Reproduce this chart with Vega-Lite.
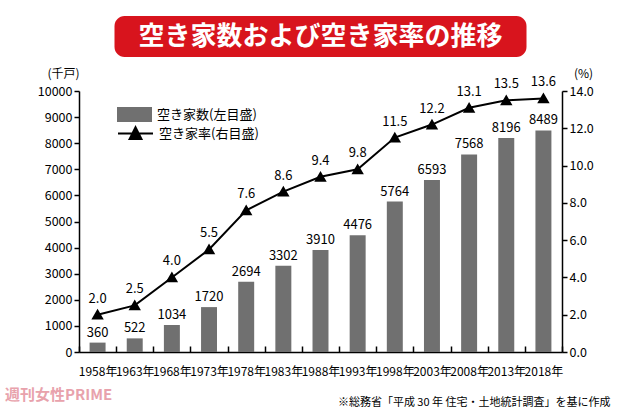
{
  "$schema": "https://vega.github.io/schema/vega-lite/v6.json",
  "background": "white",
  "padding": {"left": 5, "top": 16, "right": 5, "bottom": 0},
  "spacing": 34,
  "center": true,
  "bounds": "flush",
  "resolve": {"scale": {"fill": "independent", "stroke": "independent"}, "legend": {"fill": "independent", "stroke": "independent"}},
  "config": {
    "font": "Noto Sans CJK JP",
    "view": {"stroke": null},
    "axis": {"domainColor": "black", "domainWidth": 1.5, "tickColor": "black", "tickWidth": 1.5, "labelColor": "black", "titleColor": "black", "grid": false, "labelFont": "Noto Sans CJK JP", "titleFont": "Noto Sans CJK JP"}
  },
  "vconcat": [
    {
      "width": 412,
      "height": 41,
      "view": {"fill": "#d8141d", "stroke": null, "cornerRadius": 10},
      "data": {"values": [{"t": "空き家数および空き家率の推移"}]},
      "mark": {"type": "text", "color": "white", "fontSize": 26, "fontWeight": "bold", "baseline": "middle", "align": "center"},
      "encoding": {"text": {"field": "t", "type": "nominal"}}
    },
    {
      "width": 483,
      "height": 261,
      "title": {"text": "週刊女性PRIME", "orient": "bottom", "anchor": "start", "frame": "group", "dx": -74, "offset": -19, "color": "#e8a2ac", "fontSize": 15, "fontWeight": "bold"},
      "data": {"values": [
        {"year": "1958年", "houses": 360, "rate": 2.0},
        {"year": "1963年", "houses": 522, "rate": 2.5},
        {"year": "1968年", "houses": 1034, "rate": 4.0},
        {"year": "1973年", "houses": 1720, "rate": 5.5},
        {"year": "1978年", "houses": 2694, "rate": 7.6},
        {"year": "1983年", "houses": 3302, "rate": 8.6},
        {"year": "1988年", "houses": 3910, "rate": 9.4},
        {"year": "1993年", "houses": 4476, "rate": 9.8},
        {"year": "1998年", "houses": 5764, "rate": 11.5},
        {"year": "2003年", "houses": 6593, "rate": 12.2},
        {"year": "2008年", "houses": 7568, "rate": 13.1},
        {"year": "2013年", "houses": 8196, "rate": 13.5},
        {"year": "2018年", "houses": 8489, "rate": 13.6}
      ]},
      "encoding": {
        "x": {"field": "year", "type": "nominal", "sort": null,
          "scale": {"paddingInner": 0, "paddingOuter": 0},
          "axis": {"title": "※総務省「平成 30 年 住宅・土地統計調査」を基に作成", "labelAngle": 0, "labelFontSize": 12, "labelPadding": 20, "tickBand": "extent", "tickSize": -6, "labelOverlap": false, "titleX": 531, "titleY": 50, "titleAlign": "right", "titleBaseline": "middle", "titleFontSize": 11, "titleFontWeight": "normal"}}
      },
      "layer": [
        {
          "encoding": {
            "y": {"field": "houses", "type": "quantitative", "scale": {"domain": [0, 10000], "nice": false},
              "axis": {"values": [0, 1000, 2000, 3000, 4000, 5000, 6000, 7000, 8000, 9000, 10000], "format": "d", "title": "(千戸)", "titleAngle": 0, "titleX": -16, "titleY": -18, "titleAlign": "center", "titleBaseline": "middle", "titleFontSize": 12, "titleFontWeight": "normal", "labelFontSize": 12.5, "tickSize": 5, "labelPadding": 2}}
          },
          "layer": [
            {
              "mark": {"type": "bar", "width": {"band": 0.43}},
              "encoding": {
                "fill": {"datum": "空き家数(左目盛)", "type": "nominal", "scale": {"range": ["#707070"]},
                  "legend": {"title": null, "orient": "none", "legendX": 38, "legendY": 6, "symbolType": "M-1,-0.43H1V0.43H-1Z", "symbolSize": 1225, "symbolStrokeWidth": 0, "labelFontSize": 13, "labelOffset": 5}}
              }
            },
            {
              "mark": {"type": "text", "baseline": "bottom", "dy": -3, "fontSize": 13},
              "encoding": {"text": {"field": "houses", "type": "quantitative", "format": "d"}}
            }
          ]
        },
        {
          "encoding": {
            "y": {"field": "rate", "type": "quantitative", "scale": {"domain": [0, 14], "nice": false},
              "axis": {"orient": "right", "values": [0, 2, 4, 6, 8, 10, 12, 14], "format": ".1f", "title": "(%)", "titleAngle": 0, "titleX": 21, "titleY": -18, "titleAlign": "center", "titleBaseline": "middle", "titleFontSize": 12, "titleFontWeight": "normal", "labelFontSize": 12.5, "tickSize": 5, "labelPadding": 2}}
          },
          "layer": [
            {
              "mark": {"type": "line", "strokeWidth": 2, "point": {"shape": "triangle-up", "size": 80, "filled": true, "color": "black"}},
              "encoding": {
                "stroke": {"datum": "空き家率(右目盛)", "type": "nominal", "scale": {"range": ["black"]},
                  "legend": {"title": null, "orient": "none", "legendX": 38, "legendY": 24, "symbolType": "M-1,0H1M-0.34,0.32L0,-0.36L0.34,0.32Z", "symbolSize": 1225, "symbolStrokeWidth": 2, "symbolFillColor": "black", "labelFontSize": 13, "labelOffset": 5,
                    "encode": {"symbols": {"update": {"fill": {"value": "black"}, "stroke": {"value": "black"}}}}}}
              }
            },
            {
              "mark": {"type": "text", "baseline": "bottom", "dy": -9, "fontSize": 13},
              "encoding": {"text": {"field": "rate", "type": "quantitative", "format": ".1f"}}
            }
          ]
        }
      ],
      "resolve": {"scale": {"y": "independent"}}
    }
  ]
}
